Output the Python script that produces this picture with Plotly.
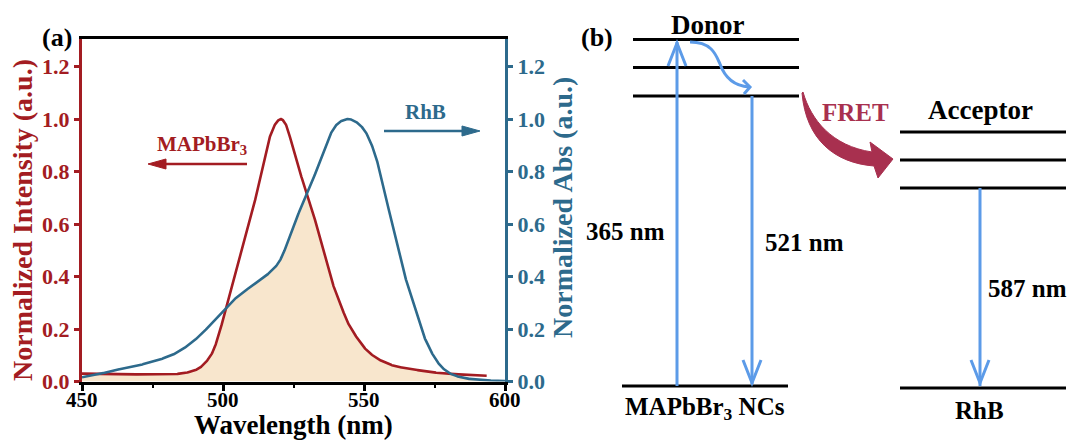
import numpy as np
import plotly.graph_objects as go

# ---------------- data ----------------
pl_wavelength = [450, 460, 470, 478, 484, 488, 491, 494, 496, 498, 500, 502, 504, 506, 508, 510,
                 512, 514, 516, 518, 519.3, 520.5, 522, 523.5, 525, 527.5, 530, 532, 534.5, 537, 539,
                 541.5, 544, 547, 550, 553, 556, 560, 564, 568, 573, 578, 584, 590, 593.5]
pl_intensity = [0.030, 0.029, 0.027, 0.026, 0.029, 0.036, 0.047, 0.075, 0.105, 0.160, 0.235, 0.310,
                0.390, 0.470, 0.550, 0.630, 0.720, 0.820, 0.910, 0.970, 0.992, 1.000, 0.985, 0.940,
                0.880, 0.790, 0.710, 0.640, 0.540, 0.450, 0.370, 0.300, 0.230, 0.175, 0.130, 0.100,
                0.080, 0.062, 0.052, 0.045, 0.037, 0.031, 0.027, 0.024, 0.022]

abs_wavelength = [450, 455, 461, 466, 471, 477, 482, 487, 492, 496, 500, 504, 508, 512, 516, 519,
                  521, 523, 525, 528, 530.5, 533, 535.5, 538, 540, 542, 544.5, 547, 550, 552, 554.5,
                  556, 558, 560, 562, 564, 566.3, 568.5, 571, 573.5, 576, 578, 581, 583, 586, 589,
                  593, 597, 600]
abs_value = [0.016, 0.025, 0.042, 0.052, 0.064, 0.082, 0.101, 0.133, 0.177, 0.222, 0.270, 0.313,
             0.347, 0.377, 0.410, 0.442, 0.478, 0.535, 0.595, 0.670, 0.730, 0.800, 0.875, 0.940,
             0.975, 0.993, 1.000, 0.990, 0.960, 0.920, 0.845, 0.780, 0.690, 0.600, 0.510, 0.420,
             0.340, 0.260, 0.180, 0.120, 0.075, 0.050, 0.028, 0.020, 0.012, 0.008, 0.005, 0.003, 0.002]

x_ticks = [450, 500, 550, 600]
x_tick_labels = ["450", "500", "550", "600"]
x_minor = [475, 525, 575]
y_ticks = [0.0, 0.2, 0.4, 0.6, 0.8, 1.0, 1.2]

# ---------------- styles ----------------
W, H = 1072, 441
RED = "#A31C22"
BLUE = "#2D6A8C"
TAN = "#F8E6CD"
LBLUE = "#5C9BE8"
CRIMSON = "#A8304F"
SERIF = "Liberation Serif, Times New Roman, serif"


def pchip(x, y, xi):
    """Monotone piecewise cubic Hermite interpolation (smooth curve through read points)."""
    x = np.asarray(x, float)
    y = np.asarray(y, float)
    xi = np.asarray(xi, float)
    h = np.diff(x)
    d = np.diff(y) / h
    m = np.zeros_like(y)
    for k in range(1, len(x) - 1):
        if d[k - 1] * d[k] > 0:
            w1 = 2 * h[k] + h[k - 1]
            w2 = h[k] + 2 * h[k - 1]
            m[k] = (w1 + w2) / (w1 / d[k - 1] + w2 / d[k])
    m[0] = d[0]
    m[-1] = d[-1]
    idx = np.clip(np.searchsorted(x, xi) - 1, 0, len(x) - 2)
    t = (xi - x[idx]) / h[idx]
    h00 = 2 * t**3 - 3 * t**2 + 1
    h10 = t**3 - 2 * t**2 + t
    h01 = -2 * t**3 + 3 * t**2
    h11 = t**3 - t**2
    return h00 * y[idx] + h10 * h[idx] * m[idx] + h01 * y[idx + 1] + h11 * h[idx] * m[idx + 1]


def X(p):
    return p / W


def Y(p):
    return 1 - p / H


# plot area in pixels
L_PX, R_PX, T_PX, B_PX = 82, 505, 39, 381.5

fig = go.Figure()

grid = np.linspace(450, 600, 1501)
red_grid = grid[grid <= pl_wavelength[-1]]
red_s = pchip(pl_wavelength, pl_intensity, red_grid)
blue_s = pchip(abs_wavelength, abs_value, grid)
red_full = np.where(grid <= pl_wavelength[-1],
                    pchip(pl_wavelength, pl_intensity, np.minimum(grid, pl_wavelength[-1])),
                    pl_intensity[-1])
overlap = np.minimum(red_full, blue_s)

fig.add_trace(go.Scatter(x=grid, y=overlap, mode="lines", line=dict(width=0, color=TAN),
                         fill="tozeroy", fillcolor=TAN, hoverinfo="skip", showlegend=False))
fig.add_trace(go.Scatter(x=red_grid, y=red_s, mode="lines",
                         line=dict(color=RED, width=2.6), showlegend=False))
fig.add_trace(go.Scatter(x=grid, y=blue_s, mode="lines", yaxis="y2",
                         line=dict(color=BLUE, width=2.6), showlegend=False))

TICK = 22
TITLE = 28

fig.update_layout(
    width=W, height=H,
    margin=dict(l=0, r=0, t=0, b=0),
    paper_bgcolor="white", plot_bgcolor="white",
    showlegend=False,
    xaxis=dict(domain=[X(L_PX), X(R_PX)], range=[450, 600], tickvals=x_ticks, automargin=False,
               ticks="outside", ticklen=6, tickwidth=2.5, tickcolor="black", showticklabels=False,
               showline=True, linecolor="black", linewidth=3, mirror=True,
               showgrid=False, zeroline=False,
               minor=dict(tickvals=x_minor, ticks="outside", ticklen=3, tickwidth=2, tickcolor="black")),
    yaxis=dict(domain=[Y(B_PX), Y(T_PX)], range=[0, 1.305], tickvals=y_ticks, tickformat=".1f",
               automargin=False,
               ticks="outside", ticklen=5, tickwidth=2.5, tickcolor=RED,
               showline=True, linecolor=RED, linewidth=3, showgrid=False, zeroline=False,
               tickfont=dict(family=SERIF, size=TICK, color=RED, weight="bold")),
    yaxis2=dict(overlaying="y", side="right", anchor="x", range=[0, 1.305], tickvals=y_ticks,
                tickformat=".1f", automargin=False,
                ticks="outside", ticklen=5, tickwidth=2.5, tickcolor=BLUE,
                showline=True, linecolor=BLUE, linewidth=3, showgrid=False, zeroline=False,
                tickfont=dict(family=SERIF, size=TICK, color=BLUE, weight="bold")),
)

shapes = []
annotations = []


def text(t, cx, cy, size=25, color="black", angle=0):
    annotations.append(dict(text=t, x=X(cx), y=Y(cy), xref="paper", yref="paper",
                            xanchor="center", yanchor="middle", showarrow=False, textangle=angle,
                            borderpad=0,
                            font=dict(family=SERIF, size=size, color=color, weight="bold")))


def hline(x0, x1, y, color="black", w=3):
    shapes.append(dict(type="line", xref="paper", yref="paper", x0=X(x0), x1=X(x1), y0=Y(y), y1=Y(y),
                       line=dict(color=color, width=w)))


def path(pts_str, color, w=3, fill=None):
    d = dict(type="path", xref="paper", yref="paper", path=pts_str, line=dict(color=color, width=w))
    if fill:
        d["fillcolor"] = fill
    shapes.append(d)


def P(x, y):
    return f"{X(x):.5f},{Y(y):.5f}"


# ---- x tick labels (placed on the data axis) ----
for v, lab in zip(x_ticks, x_tick_labels):
    annotations.append(dict(text=lab, x=v, xref="x", y=Y(400), yref="paper",
                            xanchor="center", yanchor="middle", showarrow=False, borderpad=0,
                            font=dict(family=SERIF, size=21, color="black", weight="bold")))

# ---- axis titles ----
text("Wavelength (nm)", 293, 424.5, size=27)
text("Normalized Intensity (a.u.)", 22, 220, size=TITLE, color=RED, angle=-90)
text("Normalized Abs (a.u.)", 562, 208, size=TITLE, color=BLUE, angle=-90)

# ---- panel (a) annotations ----
text("(a)", 57, 37, size=26)
text("MAPbBr<sub>3</sub>", 202, 145, size=21, color=RED)
hline(160, 247, 164, color=RED, w=2.5)
path(f"M {P(148,164)} L {P(166,159)} L {P(166,169)} Z", RED, w=1, fill=RED)
text("RhB", 425, 112, size=21, color=BLUE)
hline(384, 468, 131, color=BLUE, w=2.5)
path(f"M {P(480,131)} L {P(462,126)} L {P(462,136)} Z", BLUE, w=1, fill=BLUE)

# ---- panel (b) energy diagram ----
text("(b)", 597, 37, size=26)
text("Donor", 708, 25, size=27)
for yy in [39.5, 67.5, 96]:
    hline(633, 799, yy)
hline(622, 788, 386)
text("MAPbBr<sub>3</sub> NCs", 705, 408)

text("Acceptor", 980, 110, size=27)
for yy in [132, 160, 188]:
    hline(900, 1066, yy)
hline(900, 1066, 388)
text("RhB", 979, 410)

# excitation arrow 365 nm (up)
path(f"M {P(677,386)} L {P(677,42)}", LBLUE, w=3)
path(f"M {P(668,66)} L {P(677,43)} L {P(686,66)}", LBLUE, w=3)
text("365 nm", 625, 232)

# relaxation curved arrow
path(f"M {P(690,42)} C {P(712,42)} {P(716,55)} {P(720,64)} C {P(725,78)} {P(735,86)} {P(749,87)}", LBLUE, w=3)
path(f"M {P(743,80)} L {P(750,87)} L {P(744,94)}", LBLUE, w=3)

# emission 521 nm (down)
path(f"M {P(752,96)} L {P(752,384)}", LBLUE, w=3)
path(f"M {P(743,360)} L {P(752,383)} L {P(761,360)}", LBLUE, w=3)
text("521 nm", 804, 243)

# acceptor emission 587 nm
path(f"M {P(980,188)} L {P(980,386)}", LBLUE, w=3)
path(f"M {P(971,360)} L {P(980,383)} L {P(989,360)}", LBLUE, w=3)
text("587 nm", 1027, 288)

# FRET arrow
fret = (f"M {P(803,92)} C {P(811,120)} {P(832,146)} {P(872,152)} "
        f"L {P(870,142)} L {P(893,159)} L {P(878,178)} L {P(874,166)} "
        f"C {P(835,163)} {P(806,140)} {P(802,93)} Z")
path(fret, CRIMSON, w=1, fill=CRIMSON)
text("FRET", 855, 112, color=CRIMSON)

fig.update_layout(shapes=shapes, annotations=annotations)

fig.write_html("out.html")
